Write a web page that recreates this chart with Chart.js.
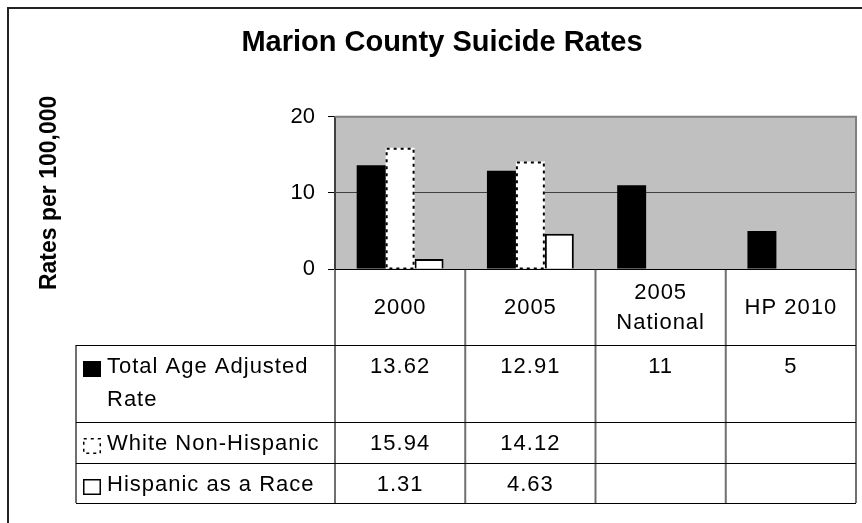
<!DOCTYPE html>
<html>
<head>
<meta charset="utf-8">
<title>Marion County Suicide Rates</title>
<script src="https://cdn.jsdelivr.net/npm/chart.js@4"></script>
<style>
  html, body { margin: 0; padding: 0; background: #fff; }
  #wrap { width: 862px; height: 523px; position: relative; }
</style>
</head>
<body>
<div id="wrap"><canvas id="suicide-rates"></canvas></div>
<script>
// chart data
const categories = ["2000", "2005", ["2005", "National"], "HP 2010"];
const seriesNames = ["Total Age Adjusted Rate", "White Non-Hispanic", "Hispanic as a Race"];
const totalAgeAdjusted = [13.62, 12.91, 11, 5];
const whiteNonHispanic = [15.94, 14.12, null, null];
const hispanicAsRace = [1.31, 4.63, null, null];
const yTicks = [0, 10, 20];

const FONT = "'Liberation Sans', Arial, sans-serif";
Chart.defaults.font.family = FONT;
Chart.defaults.color = "#000";

// gray plot area + white page
const plotBackground = {
  id: "plotBackground",
  beforeDraw(chart) {
    const { ctx, chartArea: a } = chart;
    ctx.save();
    ctx.fillStyle = "#fff";
    ctx.fillRect(0, 0, chart.width, chart.height);
    ctx.fillStyle = "#c0c0c0";
    ctx.fillRect(a.left, a.top, a.right - a.left, a.bottom - a.top);
    ctx.restore();
  },
};

// the white bars with the dotted outline
const dottedBars = {
  id: "dottedBars",
  afterDatasetsDraw(chart) {
    const ctx = chart.ctx;
    const meta = chart.getDatasetMeta(1);
    ctx.save();
    ctx.strokeStyle = "#000";
    ctx.lineWidth = 2;
    ctx.setLineDash([3, 4]);
    meta.data.forEach((bar, i) => {
      if (chart.data.datasets[1].data[i] == null) return;
      const { x, y, base, width } = bar.getProps(["x", "y", "base", "width"], true);
      ctx.strokeRect(x - width / 2 + 1, y + 1, width - 2, base - y - 1);
    });
    ctx.restore();
  },
};

function wrapText(ctx, text, maxWidth) {
  const words = text.split(" ");
  const lines = [];
  let line = "";
  words.forEach((w) => {
    const test = line ? line + " " + w : w;
    if (ctx.measureText(test).width > maxWidth && line) {
      lines.push(line);
      line = w;
    } else {
      line = test;
    }
  });
  if (line) lines.push(line);
  return lines;
}

// Excel style data table under the x axis, plus plot frame and outer border
const dataTable = {
  id: "dataTable",
  afterDraw(chart) {
    const { ctx, chartArea: a } = chart;
    const xs = chart.scales.x;
    const half = (xs.getPixelForValue(1) - xs.getPixelForValue(0)) / 2;
    const edges = categories.map((c, i) => xs.getPixelForValue(i) - half);
    edges.push(xs.getPixelForValue(categories.length - 1) + half);
    const tableLeft = 76;
    const headerTop = a.bottom;
    const headerBottom = headerTop + 76;
    const rowHeights = [77, 41, 40];
    const rowTops = [headerBottom];
    rowHeights.forEach((h, i) => rowTops.push(rowTops[i] + h));
    const tableBottom = rowTops[rowTops.length - 1];

    ctx.save();
    // plot frame (top + right)
    ctx.strokeStyle = "#808080";
    ctx.lineWidth = 2;
    ctx.beginPath();
    ctx.moveTo(a.left, a.top);
    ctx.lineTo(a.right, a.top);
    ctx.lineTo(a.right, a.bottom);
    ctx.stroke();

    // vertical table lines
    ctx.strokeStyle = "#707070";
    ctx.lineWidth = 2;
    ctx.beginPath();
    edges.forEach((x) => {
      ctx.moveTo(x, headerTop);
      ctx.lineTo(x, tableBottom);
    });
    ctx.moveTo(tableLeft, headerBottom);
    ctx.lineTo(tableLeft, tableBottom);
    ctx.stroke();

    // horizontal table lines
    ctx.strokeStyle = "#000";
    ctx.lineWidth = 1;
    ctx.beginPath();
    ctx.moveTo(edges[0], headerTop + 0.5);
    ctx.lineTo(edges[edges.length - 1], headerTop + 0.5);
    rowTops.forEach((y) => {
      ctx.moveTo(tableLeft, y + 0.5);
      ctx.lineTo(edges[edges.length - 1], y + 0.5);
    });
    ctx.stroke();

    ctx.font = "22px " + FONT;
    ctx.letterSpacing = "1px";
    ctx.fillStyle = "#000";
    ctx.textAlign = "center";
    ctx.textBaseline = "middle";

    // header row: category labels
    categories.forEach((c, i) => {
      const lines = Array.isArray(c) ? c : [c];
      const cx = (edges[i] + edges[i + 1]) / 2;
      const mid = (headerTop + headerBottom) / 2 + 1;
      lines.forEach((ln, j) => {
        ctx.fillText(ln, cx, mid + (j - (lines.length - 1) / 2) * 30);
      });
    });

    // series rows
    chart.data.datasets.forEach((ds, r) => {
      const top = rowTops[r];
      const firstLine = top + 22;
      // legend key
      const kx = 83, ky = firstLine - 6, kw = 18, kh = 16;
      ctx.save();
      if (r === 0) {
        ctx.fillStyle = "#000";
        ctx.fillRect(kx, ky, kw, kh);
      } else {
        ctx.fillStyle = "#fff";
        ctx.fillRect(kx, ky, kw, kh);
        ctx.strokeStyle = "#000";
        ctx.lineWidth = 1.5;
        if (r === 1) ctx.setLineDash([3, 4]);
        ctx.strokeRect(kx + 0.75, ky + 0.75, kw - 1.5, kh - 1.5);
      }
      ctx.restore();
      // series name
      ctx.textAlign = "left";
      const lines = wrapText(ctx, seriesNames[r], edges[0] - 107 - 8);
      lines.forEach((ln, j) => ctx.fillText(ln, 107, firstLine + j * 33));
      // values
      ctx.textAlign = "center";
      ds.data.forEach((v, i) => {
        if (v == null) return;
        ctx.fillText(String(v), (edges[i] + edges[i + 1]) / 2, firstLine);
      });
    });

    // outer chart border
    ctx.letterSpacing = "0px";
    ctx.strokeStyle = "#222";
    ctx.lineWidth = 2;
    ctx.strokeRect(8, 8, chart.width + 20, chart.height + 20);
    ctx.restore();
  },
};

new Chart(document.getElementById("suicide-rates"), {
  type: "bar",
  data: {
    labels: categories,
    datasets: [
      {
        label: seriesNames[0],
        data: totalAgeAdjusted,
        backgroundColor: "#000",
        borderWidth: 0,
      },
      {
        label: seriesNames[1],
        data: whiteNonHispanic,
        backgroundColor: "#fff",
        borderWidth: 0,
      },
      {
        label: seriesNames[2],
        data: hispanicAsRace,
        backgroundColor: "#fff",
        borderColor: "#000",
        borderWidth: 2,
      },
    ],
  },
  options: {
    responsive: true,
    maintainAspectRatio: false,
    animation: false,
    categoryPercentage: 0.667,
    barPercentage: 1,
    layout: { padding: { left: 28, right: 6, top: 0, bottom: 254 } },
    plugins: {
      legend: { display: false },
      tooltip: { enabled: false },
      title: {
        display: true,
        text: "Marion County Suicide Rates",
        color: "#000",
        font: { size: 29, weight: "bold" },
        padding: { top: 26, bottom: 56 },
      },
    },
    scales: {
      x: { display: false },
      y: {
        min: yTicks[0],
        max: yTicks[yTicks.length - 1],
        afterFit(scale) {
          scale.width = 307;
        },
        afterBuildTicks(scale) {
          scale.ticks = yTicks.map((v) => ({ value: v }));
        },
        ticks: {
          font: { size: 22 },
          color: "#000",
          padding: 13,
        },
        grid: {
          color: (c) => (c.tick && c.tick.value === 10 ? "#404040" : "rgba(0,0,0,0)"),
          tickColor: "#000",
          tickLength: 7,
          lineWidth: 1,
        },
        border: { color: "#404040", width: 2 },
        title: {
          display: true,
          text: "Rates per 100,000",
          color: "#000",
          font: { size: 23, weight: "bold" },
          padding: { top: 8, bottom: 0 },
        },
      },
    },
  },
  plugins: [plotBackground, dottedBars, dataTable],
});
</script>
</body>
</html>
